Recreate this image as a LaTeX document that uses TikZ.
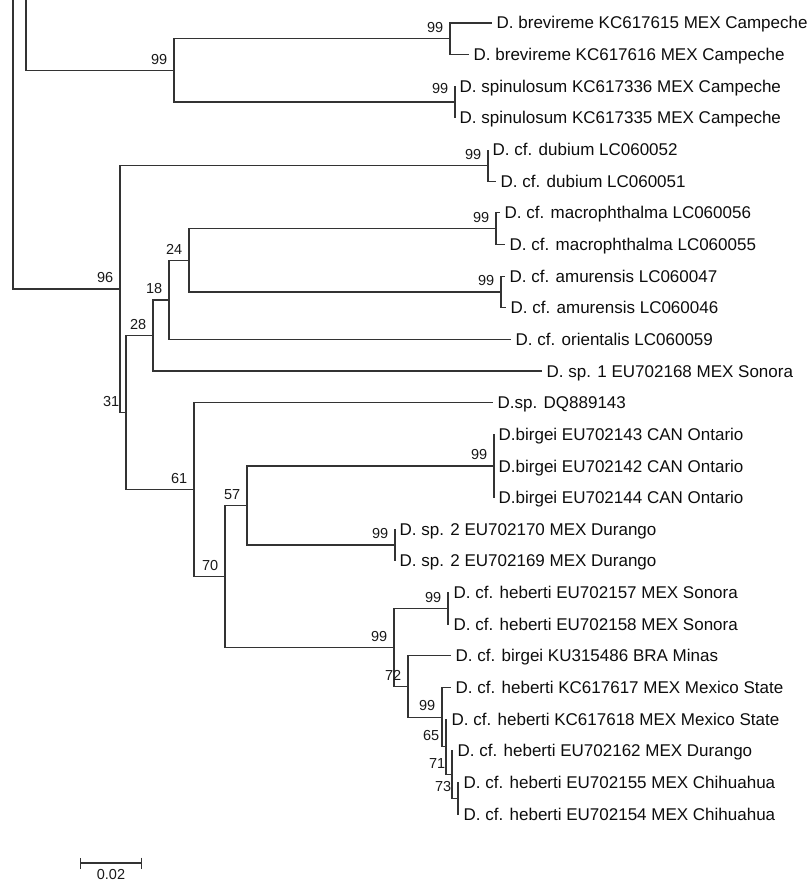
\documentclass[tikz,border=0pt]{standalone}
\usepackage{fontspec}
\setmainfont{Liberation Sans}
\usetikzlibrary{arrows.meta}
\tikzset{
  branch/.style={draw=black!80, line width=1.2pt},
  elbow/.style={branch, to path={|- (\tikztotarget)}},
  taxon/.style={anchor=west, inner xsep=4.5pt, inner ysep=0pt, text height=12pt, text depth=0pt,
    text=black!95, font=\fontsize{17}{19}\selectfont},
  boot/.style={anchor=south east, inner sep=0pt, xshift=-6.5pt, yshift=6pt,
    text=black!90, font=\fontsize{14.5}{16}\selectfont},
  scalelabel/.style={anchor=north, inner sep=0pt, text=black!90, font=\fontsize{14.5}{16}\selectfont}
}

\begin{document}
\begin{tikzpicture}[x=1pt, y=-1pt]
\useasboundingbox (0,0) rectangle (807,885);

% taxa
\node[taxon] (brev1) at (492, 23) {D. brevireme KC617615 MEX Campeche};
\node[taxon] (brev2) at (469, 54.6) {D. brevireme KC617616 MEX Campeche};
\node[taxon] (spin1) at (455, 86.3) {D. spinulosum KC617336 MEX Campeche};
\node[taxon] (spin2) at (455, 117.9) {D. spinulosum KC617335 MEX Campeche};
\node[taxon] (dub1) at (488, 149.6) {D. cf. dubium LC060052};
\node[taxon] (dub2) at (496, 181.2) {D. cf. dubium LC060051};
\node[taxon] (mac1) at (500, 212.8) {D. cf. macrophthalma LC060056};
\node[taxon] (mac2) at (505, 244.5) {D. cf. macrophthalma LC060055};
\node[taxon] (amu1) at (505, 276.1) {D. cf. amurensis LC060047};
\node[taxon] (amu2) at (506, 307.8) {D. cf. amurensis LC060046};
\node[taxon] (ori) at (511, 339.4) {D. cf. orientalis LC060059};
\node[taxon] (spone) at (542, 371) {D. sp. 1 EU702168 MEX Sonora};
\node[taxon] (dq) at (493, 402.7) {D.sp. DQ889143};
\node[taxon] (bir1) at (494, 434.3) {D.birgei EU702143 CAN Ontario};
\node[taxon] (bir2) at (494, 466) {D.birgei EU702142 CAN Ontario};
\node[taxon] (bir3) at (494, 497.6) {D.birgei EU702144 CAN Ontario};
\node[taxon] (sptwo1) at (395, 529.2) {D. sp. 2 EU702170 MEX Durango};
\node[taxon] (sptwo2) at (395, 560.9) {D. sp. 2 EU702169 MEX Durango};
\node[taxon] (heb1) at (449, 592.5) {D. cf. heberti EU702157 MEX Sonora};
\node[taxon] (heb2) at (449, 624.2) {D. cf. heberti EU702158 MEX Sonora};
\node[taxon] (birku) at (451, 655.8) {D. cf. birgei KU315486 BRA Minas};
\node[taxon] (heb3) at (451, 687.4) {D. cf. heberti KC617617 MEX Mexico State};
\node[taxon] (heb4) at (447, 719.1) {D. cf. heberti KC617618 MEX Mexico State};
\node[taxon] (heb5) at (453, 750.7) {D. cf. heberti EU702162 MEX Durango};
\node[taxon] (heb6) at (459, 782.4) {D. cf. heberti EU702155 MEX Chihuahua};
\node[taxon] (heb7) at (459, 814) {D. cf. heberti EU702154 MEX Chihuahua};

% inner nodes
\coordinate (top1) at (13, 0);
\coordinate (top2) at (26, 0);
\coordinate (camp) at (174, 70.5);
\coordinate (brev) at (450, 38.8);
\coordinate (spin) at (455, 102.1);
\coordinate (c96) at (120, 289);
\coordinate (dub) at (488, 165.4);
\coordinate (c31) at (126, 412.5);
\coordinate (c28) at (153, 335.5);
\coordinate (c18) at (169, 299.9);
\coordinate (c24) at (189, 260.3);
\coordinate (macro) at (496, 228.7);
\coordinate (amur) at (501, 292);
\coordinate (c61) at (194, 489.6);
\coordinate (c70) at (225, 576.5);
\coordinate (c57) at (247, 505.5);
\coordinate (birg) at (494, 466);
\coordinate (sptwo) at (395, 545);
\coordinate (c99) at (394, 647.4);
\coordinate (hebe) at (448, 608.4);
\coordinate (c72) at (408, 686.5);
\coordinate (c99b) at (442, 717.1);
\coordinate (c65) at (446, 746.8);
\coordinate (c71) at (452, 774.5);
\coordinate (c73) at (458, 798.2);

\path
	(top1) edge[elbow] (c96)
	(top2) edge[elbow] (camp)
	(camp) edge[elbow] (brev)
	(camp) edge[elbow] (spin)
	(brev) edge[elbow] (brev1.west)
	(brev) edge[elbow] (brev2.west)
	(spin) edge[elbow] (spin1.west)
	(spin) edge[elbow] (spin2.west)
	(c96) edge[elbow] (dub)
	(c96) edge[elbow] (c31)
	(dub) edge[elbow] (dub1.west)
	(dub) edge[elbow] (dub2.west)
	(c31) edge[elbow] (c28)
	(c31) edge[elbow] (c61)
	(c28) edge[elbow] (c18)
	(c28) edge[elbow] (spone.west)
	(c18) edge[elbow] (c24)
	(c18) edge[elbow] (ori.west)
	(c24) edge[elbow] (macro)
	(c24) edge[elbow] (amur)
	(macro) edge[elbow] (mac1.west)
	(macro) edge[elbow] (mac2.west)
	(amur) edge[elbow] (amu1.west)
	(amur) edge[elbow] (amu2.west)
	(c61) edge[elbow] (dq.west)
	(c61) edge[elbow] (c70)
	(c70) edge[elbow] (c57)
	(c70) edge[elbow] (c99)
	(c57) edge[elbow] (birg)
	(c57) edge[elbow] (sptwo)
	(birg) edge[elbow] (bir1.west)
	(birg) edge[elbow] (bir2.west)
	(birg) edge[elbow] (bir3.west)
	(sptwo) edge[elbow] (sptwo1.west)
	(sptwo) edge[elbow] (sptwo2.west)
	(c99) edge[elbow] (hebe)
	(c99) edge[elbow] (c72)
	(hebe) edge[elbow] (heb1.west)
	(hebe) edge[elbow] (heb2.west)
	(c72) edge[elbow] (birku.west)
	(c72) edge[elbow] (c99b)
	(c99b) edge[elbow] (heb3.west)
	(c99b) edge[elbow] (c65)
	(c65) edge[elbow] (heb4.west)
	(c65) edge[elbow] (c71)
	(c71) edge[elbow] (heb5.west)
	(c71) edge[elbow] (c73)
	(c73) edge[elbow] (heb6.west)
	(c73) edge[elbow] (heb7.west)
;

% bootstrap values
\node[boot] (b-camp) at (camp) {99};
\node[boot] (b-brev) at (brev) {99};
\node[boot, yshift=2pt] (b-spin) at (spin) {99};
\node[boot] (b-c96) at (c96) {96};
\node[boot] (b-dub) at (dub) {99};
\node[boot] (b-c31) at (c31) {31};
\node[boot] (b-c28) at (c28) {28};
\node[boot] (b-c18) at (c18) {18};
\node[boot] (b-c24) at (c24) {24};
\node[boot] (b-macro) at (macro) {99};
\node[boot] (b-amur) at (amur) {99};
\node[boot] (b-c61) at (c61) {61};
\node[boot] (b-c70) at (c70) {70};
\node[boot] (b-c57) at (c57) {57};
\node[boot] (b-birg) at (birg) {99};
\node[boot] (b-sptwo) at (sptwo) {99};
\node[boot] (b-c99) at (c99) {99};
\node[boot] (b-hebe) at (hebe) {99};
\node[boot] (b-c72) at (c72) {72};
\node[boot] (b-c99b) at (c99b) {99};
\node[boot] (b-c65) at (c65) {65};
\node[boot] (b-c71) at (c71) {71};
\node[boot] (b-c73) at (c73) {73};

% scale bar
\coordinate (bar0) at (80, 863);
\coordinate (bar1) at (142, 863);
\draw[branch, {Bar[width=11pt]}-{Bar[width=11pt]}] (bar0) -- (bar1);
\node[scalelabel] (barlabel) at (111, 869) {0.02};

\end{tikzpicture}
\end{document}
